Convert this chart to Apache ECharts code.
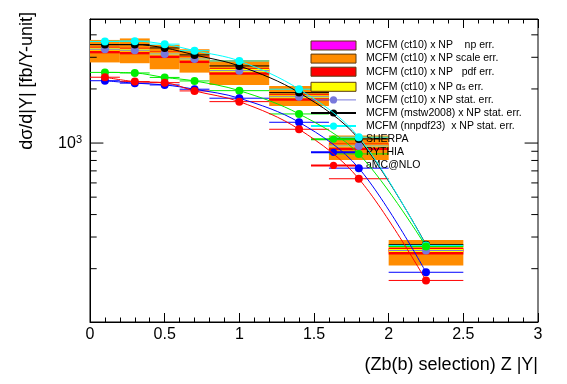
<!DOCTYPE html>
<html><head><meta charset="utf-8">
<script src="https://cdn.jsdelivr.net/npm/echarts@6/dist/echarts.min.js"></script>
<style>html,body{margin:0;padding:0;background:#fff}#c{width:567px;height:384px}</style>
</head><body><div id="c"></div>
<script>
// ---- data ----
const binLo = [0, 0.2, 0.4, 0.6, 0.8, 1.2, 1.6, 2.0];
const binHi = [0.2, 0.4, 0.6, 0.8, 1.2, 1.6, 2.0, 2.5];
const binX  = [0.1, 0.3, 0.5, 0.7, 1.0, 1.4, 1.8, 2.25];

const mcfmCt10 = [3327, 3284, 3132, 2938, 2529, 1810, 964, 252.5];
const scaleLow  = [2809, 2781, 2574, 2465, 2105, 1609, 805, 208];
const scaleHigh = [3747, 3821, 3515, 3327, 2900, 2079, 1102, 289];
const pdfLow  = [3156, 3115, 2971, 2787, 2399, 1717, 914, 239.5];
const pdfHigh = [3435, 3391, 3234, 3034, 2611, 1869, 995, 260.7];
const asLow  = [3262, 3220, 3071, 2881, 2480, 1775, 945, 247.6];
const asHigh = [3393, 3349, 3194, 2996, 2579, 1846, 983, 257.5];
const npLow  = [3260, 3218, 3069, 2879, 2478, 1774, 945, 247.5];
const npHigh = [3394, 3350, 3195, 2997, 2580, 1846, 983, 257.5];

const mstw2008 = [3529, 3529, 3382, 3093, 2686, 1908, 1054, 272];
const nnpdf23  = [3677, 3690, 3551, 3267, 2863, 1993, 1078, 269.3];
const sherpa   = [2472, 2455, 2318, 2216, 1957, 1452, 870, 265.8];
const pythia   = [2222, 2154, 2105, 1993, 1776, 1305, 725, 191];
const amcnlo   = [2324, 2197, 2168, 1950, 1700, 1193, 633, 172];

const yMajorTicks = [1000];
const yMinorTicks = [200, 300, 400, 500, 600, 700, 800, 900, 2000, 3000, 4000];
const xTickLabels = ['0', '0.5', '1', '1.5', '2', '2.5', '3'];

const FONT = 'Liberation Sans, Arial, Helvetica, sans-serif';

// ---- helpers ----
function boxSeries(name, color, lo, hi) {
  return {
    type: 'custom', name: name, z: 2, silent: true,
    itemStyle: { color: color },
    data: binLo.map((x0, i) => [x0, binHi[i], lo[i], hi[i]]),
    encode: { x: [0, 1], y: [2, 3] },
    renderItem: function (params, api) {
      const a = api.coord([api.value(0), api.value(3)]);
      const b = api.coord([api.value(1), api.value(2)]);
      return { type: 'rect', shape: { x: a[0], y: a[1], width: b[0] - a[0], height: b[1] - a[1] },
               style: { fill: color } };
    }
  };
}
function errSeries(name, color, vals) {
  return {
    type: 'custom', name: name, z: 3, silent: true,
    data: binLo.map((x0, i) => [x0, binHi[i], vals[i]]),
    encode: { x: [0, 1], y: 2 },
    renderItem: function (params, api) {
      const a = api.coord([api.value(0), api.value(2)]);
      const b = api.coord([api.value(1), api.value(2)]);
      return { type: 'line', shape: { x1: a[0], y1: a[1], x2: b[0], y2: b[1] },
               style: { stroke: color, lineWidth: 1 } };
    }
  };
}
function graphSeries(name, color, vals, showLine) {
  return {
    type: 'line', name: name, z: 4, silent: true,
    data: binX.map((x, i) => [x, vals[i]]),
    smooth: 0.35, symbol: 'circle', symbolSize: 8, showAllSymbol: true,
    itemStyle: { color: color },
    lineStyle: { color: color, width: 1, opacity: showLine ? 1 : 0 }
  };
}

const allTicks = yMajorTicks.concat(yMinorTicks);
const tickSeries = {
  type: 'custom', name: 'yticks', z: 5, silent: true, clip: false,
  data: allTicks.map(v => [0, v]),
  encode: { x: 0, y: 1 },
  renderItem: function (params, api) {
    const v = api.value(1);
    const len = yMajorTicks.indexOf(v) >= 0 ? 13.4 : 6.7;
    const l = api.coord([0, v]);
    const r = api.coord([3, v]);
    return { type: 'group', children: [
      { type: 'line', shape: { x1: l[0], y1: l[1], x2: l[0] + len, y2: l[1] }, style: { stroke: '#000', lineWidth: 1 } },
      { type: 'line', shape: { x1: r[0], y1: r[1], x2: r[0] - len, y2: r[1] }, style: { stroke: '#000', lineWidth: 1 } }
    ] };
  }
};

const legendNames = {
  np: 'MCFM (ct10) x NP    np err.',
  scale: 'MCFM (ct10) x NP scale err.',
  pdf: 'MCFM (ct10) x NP   pdf err.',
  as: 'MCFM (ct10) x NP α{s|s} err.',
  stat: 'MCFM (ct10) x NP stat. err.',
  mstw: 'MCFM (mstw2008) x NP stat. err.',
  nnpdf: 'MCFM (nnpdf23)  x NP stat. err.',
  sherpa: 'SHERPA',
  pythia: 'PYTHIA',
  amc: 'aMC@NLO'
};

const C = { np: '#ff00ff', scale: '#ff8c00', pdf: '#ff0000', as: '#ffff00',
            stat: '#7878dc', mstw: '#000000', nnpdf: '#00ffff', sherpa: '#00ee00', pythia: '#0000ff', amc: '#ff0000' };

const boxBorder = { borderColor: '#5a3a10', borderWidth: 1 };

const option = {
  animation: false,
  backgroundColor: '#fff',
  grid: { left: 90, right: 29, top: 19, bottom: 62, show: true, borderColor: '#000', borderWidth: 1, backgroundColor: 'transparent' },
  xAxis: [
    { type: 'value', min: 0, max: 3, interval: 0.5, position: 'bottom',
      axisLine: { show: true, lineStyle: { color: '#000', width: 1 } },
      axisTick: { show: true, inside: true, length: 9, lineStyle: { color: '#000' } },
      minorTick: { show: true, splitNumber: 5, length: 4.5, lineStyle: { color: '#000' } },
      splitLine: { show: false }, minorSplitLine: { show: false },
      axisLabel: { color: '#000', fontSize: 16, fontFamily: FONT, margin: 5,
                   formatter: function (v) { return xTickLabels[Math.round(v / 0.5)]; } } },
    { type: 'value', min: 0, max: 3, interval: 0.5, position: 'top',
      axisLine: { show: true, lineStyle: { color: '#000', width: 1 } },
      axisTick: { show: true, inside: true, length: 9, lineStyle: { color: '#000' } },
      minorTick: { show: true, splitNumber: 5, length: 4.5, lineStyle: { color: '#000' } },
      splitLine: { show: false }, axisLabel: { show: false } }
  ],
  yAxis: [
    { type: 'log', logBase: 10, min: 101, max: 4900,
      axisLine: { show: true, lineStyle: { color: '#000', width: 1 } },
      axisTick: { show: false }, splitLine: { show: false }, minorTick: { show: false },
      axisLabel: { color: '#000', fontFamily: FONT, margin: 8, showMinLabel: false, showMaxLabel: false,
        formatter: function (v) { return Math.abs(v - 1000) < 1 ? '{b|10}{s|3}' : ''; },
        rich: { b: { fontSize: 16, fontFamily: FONT, color: '#000', lineHeight: 18, verticalAlign: 'bottom' },
                s: { fontSize: 11, fontFamily: FONT, color: '#000', lineHeight: 18, verticalAlign: 'top' } } } }
  ],
  legend: {
    orient: 'vertical', left: 310, top: 40, padding: 0,
    itemWidth: 45, itemHeight: 9, itemGap: 2.1,
    selectedMode: false,
    textStyle: { color: '#000', fontSize: 10.5, fontFamily: FONT, lineHeight: 9, padding: [0, 0, 0, 5],
      rich: { s: { fontSize: 7, fontFamily: FONT, color: '#000', lineHeight: 9, verticalAlign: 'bottom', padding: [5, 0, 0, 0] } } },
    formatter: function (n) { return legendNames[n] || n; },
    data: [
      { name: 'np', icon: 'rect', itemStyle: boxBorder },
      { name: 'scale', icon: 'rect', itemStyle: boxBorder },
      { name: 'pdf', icon: 'rect', itemStyle: boxBorder },
      { name: 'as', icon: 'rect', itemStyle: boxBorder },
      { name: 'stat', lineStyle: { opacity: 1, width: 1, color: C.stat } },
      { name: 'mstw' }, { name: 'nnpdf' }, { name: 'sherpa' }, { name: 'pythia' }, { name: 'amc' }
    ]
  },
  graphic: [
    { type: 'text', x: 538, y: 365, style: { text: '(Zb(b) selection) Z |Y|', font: '18px ' + FONT, fill: '#000', align: 'right', verticalAlign: 'middle' } },
    { type: 'text', x: 27, y: 12, rotation: Math.PI / 2, style: { text: 'dσ/d|Y| [fb/Y-unit]', font: '18px ' + FONT, fill: '#000', align: 'right', verticalAlign: 'middle' } }
  ],
  series: [
    boxSeries('np', C.np, npLow, npHigh),
    boxSeries('scale', C.scale, scaleLow, scaleHigh),
    boxSeries('pdf', C.pdf, pdfLow, pdfHigh),
    boxSeries('as', C.as, asLow, asHigh),
    errSeries('e_stat', C.stat, mcfmCt10),
    errSeries('e_mstw', C.mstw, mstw2008),
    errSeries('e_nnpdf', C.nnpdf, nnpdf23),
    errSeries('e_sherpa', C.sherpa, sherpa),
    errSeries('e_pythia', C.pythia, pythia),
    errSeries('e_amc', C.amc, amcnlo),
    graphSeries('stat', C.stat, mcfmCt10, false),
    graphSeries('mstw', C.mstw, mstw2008, true),
    graphSeries('nnpdf', C.nnpdf, nnpdf23, true),
    graphSeries('sherpa', C.sherpa, sherpa, true),
    graphSeries('pythia', C.pythia, pythia, true),
    graphSeries('amc', C.amc, amcnlo, true),
    tickSeries
  ]
};

const chart = echarts.init(document.getElementById('c'), null, { renderer: 'canvas' });
chart.setOption(option);
</script>
</body></html>
